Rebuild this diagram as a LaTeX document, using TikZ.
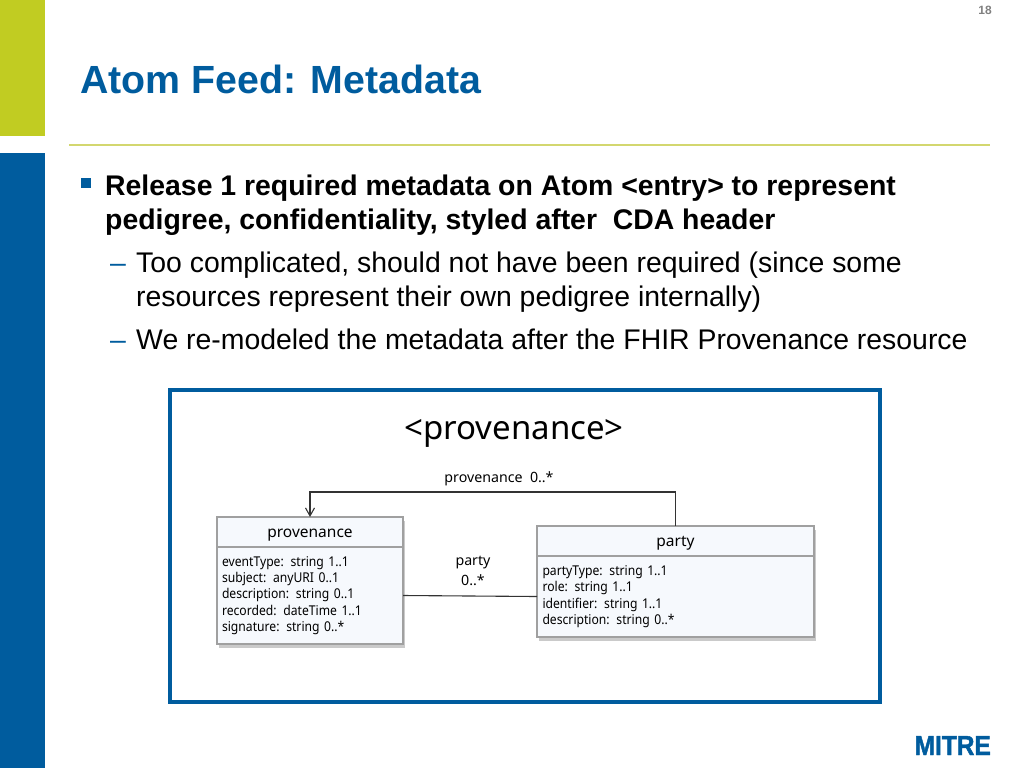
\documentclass[tikz,border=0pt]{standalone}
\usepackage{fontspec}
\setmainfont{Liberation Sans}
\newfontfamily\umlfont{Noto Sans}
\newfontfamily\umlnarrow[FakeStretch=0.9]{Noto Sans}
\newfontfamily\logofont[FakeStretch=0.89,FakeBold=1.5]{Liberation Sans}
\usepackage{xcolor}
\usetikzlibrary{positioning,shadows,arrows.meta}
\definecolor{mitreblue}{HTML}{005C9E}
\definecolor{mitregreen}{HTML}{C1CC22}
\definecolor{ruleline}{HTML}{D3D76F}
\definecolor{boxfill}{HTML}{F6F9FD}
\definecolor{boxline}{HTML}{A0A0A0}
\tikzset{
  bar/.style={fill=#1,draw=none,minimum width=45pt,inner sep=0pt,outer sep=0pt,anchor=north west},
  lead/.style={anchor=base west,inner sep=0pt,font=\fontsize{28.4}{28.4}\selectfont\bfseries},
  sub/.style={anchor=base west,inner sep=0pt,font=\fontsize{28.4}{28.4}\selectfont},
  tick/.style={anchor=base west,inner sep=0pt,text=mitreblue,font=\fontsize{28.4}{28.4}\selectfont},
  umlbox/.style={draw=boxline,line width=1.3pt,fill=boxfill,outer sep=0pt,inner sep=0pt,
    drop shadow={shadow xshift=1.5pt,shadow yshift=-3.5pt,opacity=.35,fill=black!60}},
  umlhead/.style={umlbox,text height=11pt,text depth=1pt,font=\umlfont\fontsize{15.5}{15.5}\selectfont},
  umlbody/.style={umlbox,align=left,font=\umlnarrow\fontsize{13.5}{16.4}\selectfont},
  umllabel/.style={inner sep=0pt,font=\umlfont\fontsize{14.2}{19.5}\selectfont,align=center},
  umlline/.style={draw=black!80,line width=1.1pt},
}
\begin{document}
\begin{tikzpicture}[x=1pt,y=-1pt,node distance=0pt]
  \useasboundingbox (0,0) rectangle (1024,768);

  \node(greenbar)[bar=mitregreen,minimum height=136pt] at (0,0) {};
  \node(bluebar)[bar=mitreblue,minimum height=615pt] at (0,153) {};
  \draw[ruleline,line width=1.5pt] (69,145) -- (990,145);

  \node(pagenum)[anchor=base east,inner sep=0pt,text=black!50,font=\fontsize{12}{12}\selectfont\bfseries] at (992,15) {18};
  \node(title)[anchor=base west,inner sep=0pt,text=mitreblue,font=\fontsize{39.3}{39.3}\selectfont\bfseries] at (80,93) {Atom Feed: Metadata};

  \node(bullet)[fill=mitreblue,minimum size=10.5pt,inner sep=0pt] at (86,183) {};
  \node(lineA)[lead] at (105,195) {Release 1 required metadata on Atom <entry> to represent};
  \node(lineB)[lead] at (105,229) {pedigree, confidentiality, styled after\ \ CDA header};
  \node(dashA)[tick] at (110,272) {--};
  \node(lineC)[sub] at (136,272) {Too complicated, should not have been required (since some};
  \node(lineD)[sub] at (136,306) {resources represent their own pedigree internally)};
  \node(dashB)[tick] at (110,349) {--};
  \node(lineE)[sub] at (136,349) {We re-modeled the metadata after the FHIR Provenance resource};

  \node(frame)[draw=mitreblue,line width=3.5pt,minimum width=710pt,minimum height=312pt,anchor=north west,outer sep=0pt] at (170,390) {};
  \node(heading)[inner sep=0pt,font=\umlfont\fontsize{33}{33}\selectfont] at (514,433) {<provenance>};

  \node(provHead)[umlhead,minimum width=186pt,minimum height=30pt,anchor=north west] at (217,517) {provenance};
  \node(provBody)[umlbody,below=of provHead,minimum width=186pt,minimum height=97pt,text width=176pt] {eventType: string 1..1\\subject: anyURI 0..1\\description: string 0..1\\recorded: dateTime 1..1\\signature: string 0..*\\[4pt]};

  \node(partyHead)[umlhead,minimum width=277pt,minimum height=30pt,anchor=north west] at (537,526) {party};
  \node(partyBody)[umlbody,below=of partyHead,minimum width=277pt,minimum height=81pt,text width=266pt] {partyType: string 1..1\\role: string 1..1\\identifier: string 1..1\\description: string 0..*\\[4pt]};

  \draw[umlline,-{Straight Barb[length=8pt,width=9pt]}] (partyHead.north) -- ++(0,-34) -| (provHead.north);
  \draw[umlline] (provBody.east) -- (partyBody.west);

  \node(selfLabel)[umllabel] at (499,479) {provenance\ \ 0..*};
  \node(partyLabel)[umllabel] at (473,571) {party\\0..*};

  \node(logo)[anchor=base east,inner sep=0pt,text=mitreblue,font=\logofont\fontsize{27.5}{27.5}\selectfont\bfseries] at (991,755) {MITRE};
\end{tikzpicture}
\end{document}
